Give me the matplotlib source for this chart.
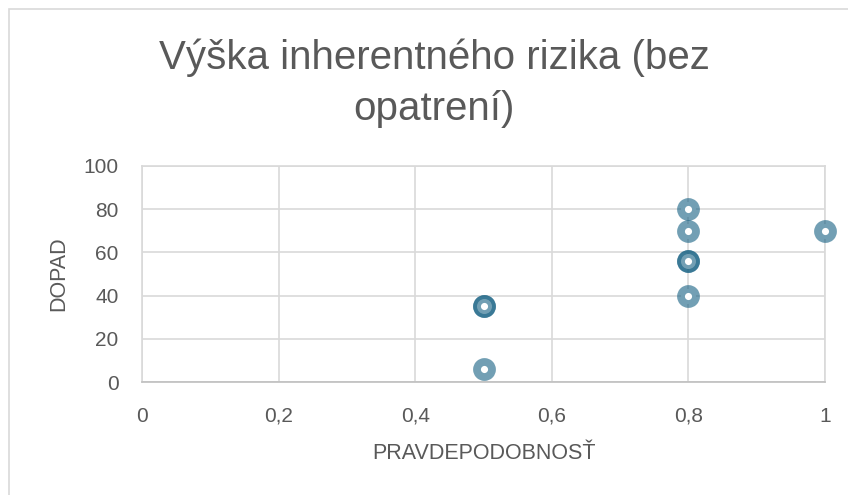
import matplotlib.pyplot as plt
from matplotlib.patches import Rectangle
from matplotlib.ticker import FuncFormatter

# risk points (two of them sit twice on the same spot)
pravdepodobnost = [0.5, 0.5, 0.5, 0.8, 0.8, 0.8, 0.8, 0.8, 1.0]
dopad = [6, 35, 35, 40, 56, 56, 70, 80, 70]

title = "Výška inherentného rizika (bez\nopatrení)"
xlabel = "PRAVDEPODOBNOSŤ"
ylabel = "DOPAD"
xticks = [0, 0.2, 0.4, 0.6, 0.8, 1]
yticks = [0, 20, 40, 60, 80, 100]

text_col = "#595959"
grid_col = "#d9d9d9"

plt.rcParams['font.family'] = ['Liberation Sans', 'DejaVu Sans']

fig = plt.figure(figsize=(8.48, 4.95), dpi=100)
fig.patches.append(Rectangle((9 / 848, -0.1), 1.2, 1 - 9 / 495 + 0.1,
                             transform=fig.transFigure, fill=False,
                             edgecolor=grid_col, linewidth=1.2))

ax = fig.add_axes([142 / 848, 1 - 382 / 495, 683 / 848, 216 / 495])
ax.set_xlim(0, 1)
ax.set_ylim(0, 100)
ax.set_xticks(xticks)
ax.set_yticks(yticks)
ax.xaxis.set_major_formatter(FuncFormatter(
    lambda v, p: ("%g" % v).replace(".", ",")))
ax.grid(True, color=grid_col, linewidth=1.2)
ax.set_axisbelow(True)
for side in ["top", "right", "left"]:
    ax.spines[side].set_color(grid_col)
    ax.spines[side].set_linewidth(1.2)
ax.spines["bottom"].set_color("#bfbfbf")
ax.spines["bottom"].set_linewidth(1.2)
ax.tick_params(axis="y", length=0, labelsize=15, labelcolor=text_col, pad=17)
ax.tick_params(axis="x", length=0, labelsize=15, labelcolor=text_col, pad=18)

ax.scatter(pravdepodobnost, dopad, s=117, marker="o", facecolor="white",
           edgecolor=(21 / 255, 96 / 255, 130 / 255, 0.6), linewidth=5.6,
           zorder=3, clip_on=False)

ax.set_xlabel(xlabel, fontsize=15.5, color=text_col, labelpad=12)
ax.set_ylabel(ylabel, fontsize=15.5, color=text_col, labelpad=10)

fig.text(0.512, 1 - 83 / 495, title, ha="center", va="center", fontsize=29,
         color=text_col, linespacing=1.42)

plt.savefig("out.png", dpi=100)
